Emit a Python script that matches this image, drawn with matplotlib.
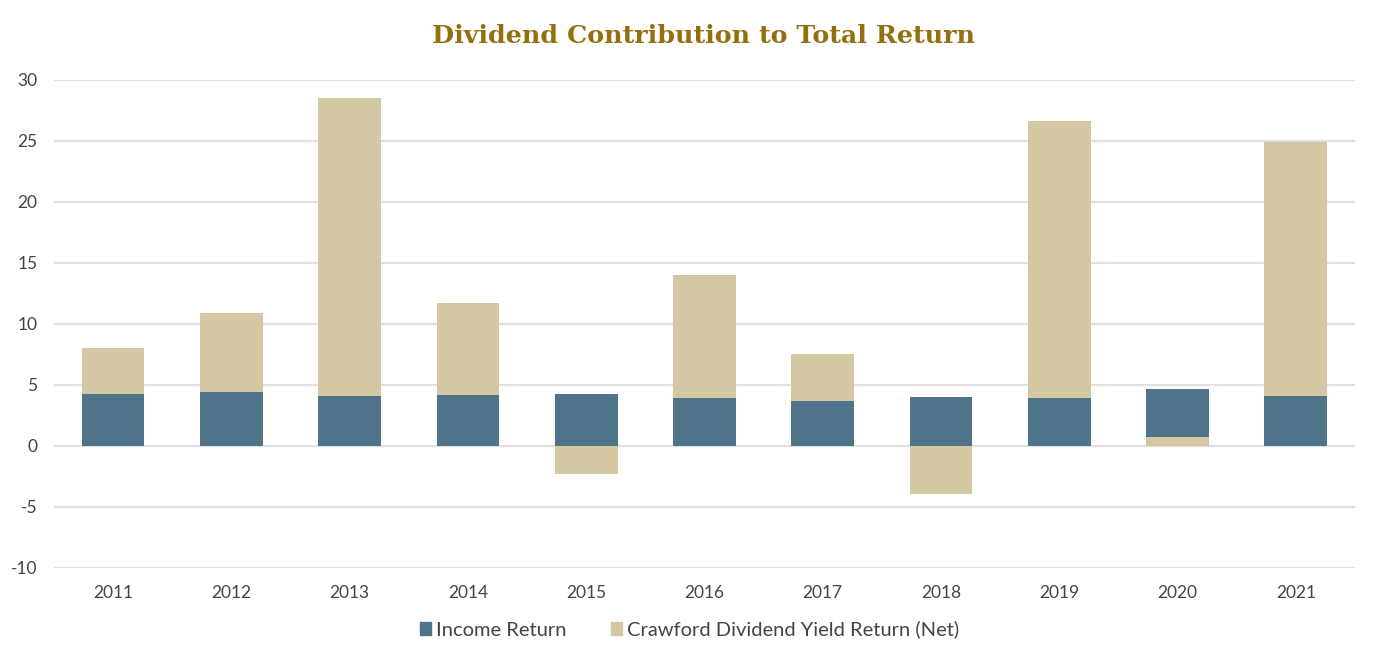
import numpy as np
import matplotlib
matplotlib.use("Agg")
import matplotlib.pyplot as plt
from matplotlib.patches import Patch

years = ["2011", "2012", "2013", "2014", "2015", "2016", "2017", "2018", "2019", "2020", "2021"]
income_return = [4.3, 4.4, 4.1, 4.2, 4.3, 3.9, 3.7, 4.0, 3.9, 4.7, 4.1]
total_return = [8.0, 10.9, 28.5, 11.7, -2.3, 14.0, 7.5, -3.9, 26.6, 0.75, 24.9]

blue = "#4f7389"
tan = "#d4c7a4"
title_col = "#946f0f"
text_col = "#444444"

plt.rcParams['font.family'] = ['Lato', 'DejaVu Sans']
plt.rcParams['axes.unicode_minus'] = False

fig = plt.figure(figsize=(13.77, 6.6), dpi=100)
ax = fig.add_axes([0.0392, 0.1394, 0.9448, 0.7394])

x = np.arange(len(years))
w = 0.53
for i in range(len(years)):
    inc = income_return[i]
    tot = total_return[i]
    # the shorter of the two overlapping bars sits in front
    if abs(tot) < abs(inc) and tot > 0:
        z_inc, z_tot = 2, 3
    else:
        z_inc, z_tot = 3, 2
    ax.bar(x[i], tot, width=w, color=tan, zorder=z_tot, linewidth=0)
    ax.bar(x[i], inc, width=w, color=blue, zorder=z_inc, linewidth=0)

ax.set_xlim(-0.5, len(years) - 0.5)
ax.set_ylim(-10, 30)
ax.set_yticks(np.arange(-10, 31, 5))
ax.set_xticks(x)
ax.set_xticklabels(years)
ax.yaxis.grid(True, color="#e0e0e0", linewidth=1.6, zorder=0)
ax.set_axisbelow(True)
for s in ax.spines.values():
    s.set_visible(False)
ax.tick_params(axis='both', length=0, labelsize=12.5, colors=text_col)
ax.tick_params(axis='y', pad=12)
ax.tick_params(axis='x', pad=12)

fig.text(0.511, 0.945, "Dividend Contribution to Total Return", ha='center', va='center',
         fontsize=18.3, fontweight='bold', color=title_col, family=['DejaVu Serif'])

handles = [Patch(color=blue, label="Income Return"),
           Patch(color=tan, label="Crawford Dividend Yield Return (Net)")]
fig.legend(handles=handles, loc='center', bbox_to_anchor=(0.501, 0.046), ncol=2, frameon=False,
           fontsize=14.5, handlelength=0.55, handleheight=0.55, handletextpad=0.25,
           columnspacing=2.2, labelcolor=text_col)

fig.savefig("out.png", dpi=100)
